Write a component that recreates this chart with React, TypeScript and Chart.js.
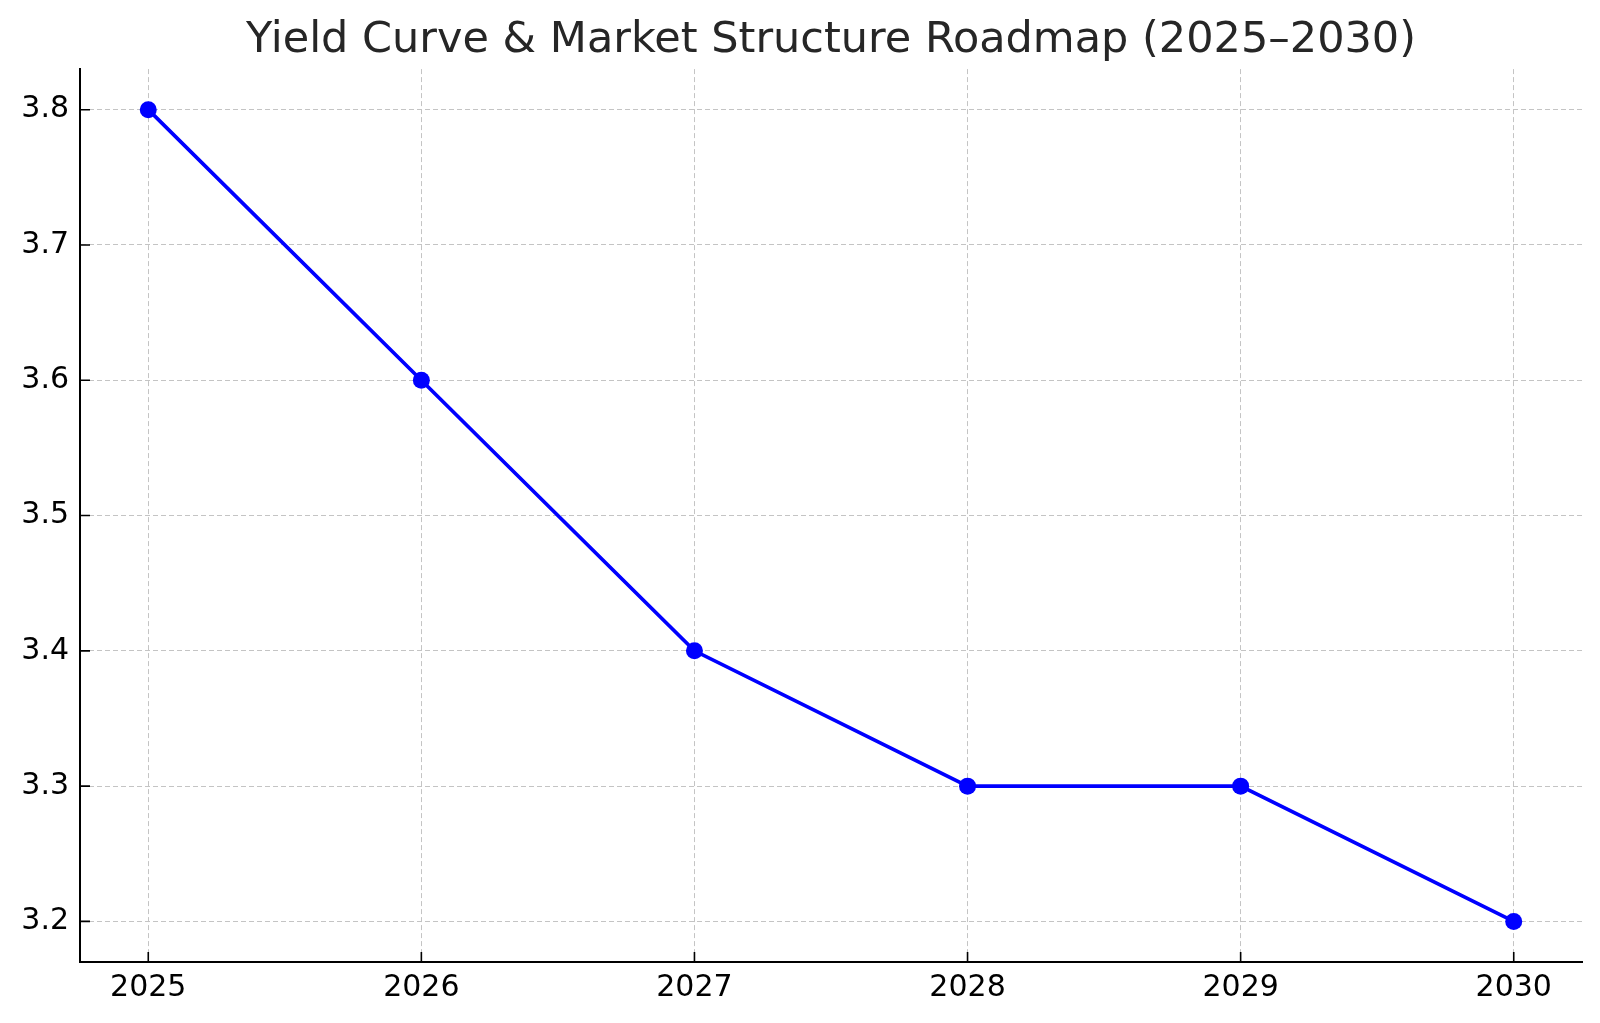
import React, { useEffect, useRef } from "react";
import { Chart, registerables } from "chart.js";

Chart.register(...registerables);

const years = [2025, 2026, 2027, 2028, 2029, 2030];
const yieldValues = [3.8, 3.6, 3.4, 3.3, 3.3, 3.2];
const yTicks = [3.2, 3.3, 3.4, 3.5, 3.6, 3.7, 3.8];
const titleText = "Yield Curve & Market Structure Roadmap (2025\u20132030)";

const FONT = "'DejaVu Sans', 'Liberation Sans', sans-serif";

const inwardTicks = {
  id: "inwardTicks",
  afterDatasetsDraw(chart: any) {
    const ctx = chart.ctx;
    const area = chart.chartArea;
    const x = chart.scales.x;
    const y = chart.scales.y;
    const len = 10;
    ctx.save();
    ctx.strokeStyle = "#000";
    ctx.lineWidth = 1.6;
    ctx.beginPath();
    for (const t of x.ticks) {
      const px = x.getPixelForValue(t.value);
      ctx.moveTo(px, area.bottom);
      ctx.lineTo(px, area.bottom - len);
    }
    for (const t of y.ticks) {
      const py = y.getPixelForValue(t.value);
      ctx.moveTo(area.left, py);
      ctx.lineTo(area.left + len, py);
    }
    ctx.stroke();
    ctx.restore();
  },
};

export default function App() {
  const ref = useRef<HTMLCanvasElement | null>(null);

  useEffect(() => {
    if (!ref.current) return;
    const chart = new Chart(ref.current, {
      type: "line",
      data: {
        datasets: [
          {
            data: years.map((yr, i) => ({ x: yr, y: yieldValues[i] })),
            borderColor: "#0000ff",
            backgroundColor: "#0000ff",
            borderWidth: 3.7,
            pointRadius: 8.5,
            pointBorderWidth: 0,
            pointBackgroundColor: "#0000ff",
            tension: 0,
            fill: false,
          },
        ],
      },
      options: {
        animation: false,
        responsive: false,
        maintainAspectRatio: false,
        layout: { padding: { left: 0, right: 18, top: 0, bottom: 0 } },
        plugins: {
          legend: { display: false },
          tooltip: { enabled: false },
          title: {
            display: true,
            fullSize: false,
            text: titleText,
            color: "#262626",
            font: { family: FONT, size: 43, weight: "normal" },
            padding: { top: 15, bottom: 2.5 },
          },
        },
        scales: {
          x: {
            type: "linear",
            min: 2024.75,
            max: 2030.25,
            afterBuildTicks: (scale: any) => {
              scale.ticks = years.map((v) => ({ value: v }));
            },
            afterFit: (scale: any) => {
              scale.height = 61;
            },
            ticks: {
              color: "#000",
              font: { family: FONT, size: 30 },
              padding: 8,
              maxRotation: 0,
              autoSkip: false,
              callback: (v: any) => String(v),
            },
            grid: {
              color: "#c4c4c4",
              lineWidth: 1,
              drawTicks: false,
            },
            border: { display: true, color: "#000", width: 2, dash: [5, 3] } as any,
          },
          y: {
            type: "linear",
            min: 3.17,
            max: 3.83,
            afterBuildTicks: (scale: any) => {
              scale.ticks = yTicks.map((v) => ({ value: v }));
            },
            afterFit: (scale: any) => {
              scale.width = 80;
            },
            ticks: {
              color: "#000",
              font: { family: FONT, size: 30 },
              padding: 11,
              autoSkip: false,
              callback: (v: any) => Number(v).toFixed(1),
            },
            grid: {
              color: "#c4c4c4",
              lineWidth: 1,
              drawTicks: false,
            },
            border: { display: true, color: "#000", width: 2, dash: [5, 3] } as any,
          },
        },
      },
      plugins: [inwardTicks],
    } as any);
    return () => chart.destroy();
  }, []);

  return (
    <div style={{ position: "fixed", left: 0, top: 0, width: 1600, height: 1023, background: "#fff" }}>
      <canvas ref={ref} width={1600} height={1023} style={{ width: 1600, height: 1023, display: "block" }} />
    </div>
  );
}
